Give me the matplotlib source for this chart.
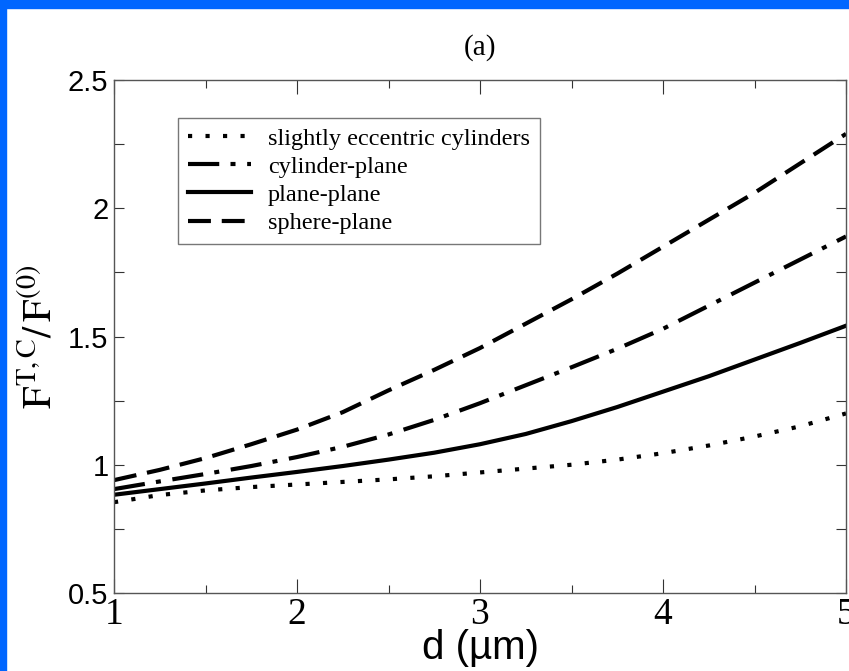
import numpy as np
import matplotlib
matplotlib.use("Agg")
import matplotlib.pyplot as plt
from matplotlib.patches import Rectangle
from matplotlib.ticker import MultipleLocator, FormatStrFormatter

# Separacion d (micras)
d = [1.0, 1.25, 1.5, 1.75, 2.0, 2.25, 2.5, 2.75, 3.0,
     3.25, 3.5, 3.75, 4.0, 4.25, 4.5, 4.75, 5.0]

# Cociente F^{T,C}/F^{(0)} para cada geometria
ecc_cyl = [0.854, 0.882, 0.900, 0.913, 0.923, 0.933, 0.943, 0.955, 0.970,
           0.985, 1.000, 1.020, 1.045, 1.075, 1.110, 1.150, 1.200]
cyl_plane = [0.905, 0.935, 0.964, 0.995, 1.030, 1.070, 1.118, 1.175, 1.240,
             1.310, 1.380, 1.452, 1.530, 1.620, 1.710, 1.800, 1.890]
plane_plane = [0.883, 0.905, 0.927, 0.950, 0.972, 0.995, 1.020, 1.047, 1.080,
               1.120, 1.170, 1.225, 1.285, 1.345, 1.410, 1.475, 1.542]
sphere_plane = [0.940, 0.980, 1.026, 1.080, 1.137, 1.205, 1.290, 1.370, 1.455,
                1.550, 1.645, 1.745, 1.850, 1.955, 2.060, 2.175, 2.290]

labels = ["slightly eccentric cylinders", "cylinder-plane",
          "plane-plane", "sphere-plane"]

plt.rcParams["mathtext.fontset"] = "stix"
serif = "Liberation Serif"
sans = "Liberation Sans"

fig = plt.figure(figsize=(8.49, 6.71), dpi=100, facecolor="white")
# marco azul de la diapositiva
fig.patches.append(Rectangle((0, 1 - 8 / 671), 1, 8 / 671, transform=fig.transFigure,
                             color="#0066ff", zorder=0))
fig.patches.append(Rectangle((0, 0), 6 / 849, 1, transform=fig.transFigure,
                             color="#0066ff", zorder=0))

ax = fig.add_axes([114 / 849, 1 - 593 / 671, 732 / 849, 513 / 671])

lw = 3.0
ax.plot(d, ecc_cyl, color="black", lw=lw, linestyle=(0, (1, 3.2)),
        dash_capstyle="butt", label=labels[0])
ax.plot(d, cyl_plane, color="black", lw=lw, linestyle=(0, (7.5, 2.7, 1.2, 2.8)),
        dash_capstyle="butt", label=labels[1])
ax.plot(d, plane_plane, color="black", lw=lw, label=labels[2])
ax.plot(d, sphere_plane, color="black", lw=lw, linestyle=(0, (5.5, 2.6)),
        dash_capstyle="butt", label=labels[3])

ax.set_xlim(1, 5)
ax.set_ylim(0.5, 2.5)
ax.xaxis.set_major_locator(MultipleLocator(1))
ax.xaxis.set_minor_locator(MultipleLocator(0.5))
ax.yaxis.set_major_locator(MultipleLocator(0.5))
ax.yaxis.set_minor_locator(MultipleLocator(0.25))
ax.yaxis.set_major_formatter(FormatStrFormatter("%g"))

ax.tick_params(which="both", direction="in", top=True, right=True,
               color="#333333", width=0.8)
ax.tick_params(which="major", length=10)
ax.tick_params(which="minor", length=6)
ax.tick_params(axis="y", which="both", length=7)
ax.tick_params(axis="x", pad=3)
ax.tick_params(axis="y", pad=4)
for lab in ax.get_xticklabels():
    lab.set_fontfamily(serif)
    lab.set_fontsize(27)
for lab in ax.get_yticklabels():
    lab.set_fontfamily(sans)
    lab.set_fontsize(21)
for s in ax.spines.values():
    s.set_color("#555555")
    s.set_linewidth(1.0)

ax.set_xlabel("d (\u00b5m)", fontfamily=sans, fontsize=29, labelpad=-2)
ax.set_ylabel(r"$\mathrm{F}^{\mathrm{T,C}}/\,\mathrm{F}^{(0)}$", fontsize=29, labelpad=6)

fig.text(480 / 849, 1 - 48 / 671, "(a)", fontfamily=serif, fontsize=21,
         ha="center", va="center")

leg = ax.legend(loc="upper left", bbox_to_anchor=(64 / 732, 1 - 38 / 513),
                prop={"family": serif, "size": 17.5}, frameon=True, fancybox=False,
                edgecolor="#555555", handlelength=2.6, handletextpad=0.7,
                labelspacing=0.25, borderpad=0.4, borderaxespad=0)
leg.get_frame().set_linewidth(1.0)

fig.savefig("out.png", dpi=100, facecolor="white")
